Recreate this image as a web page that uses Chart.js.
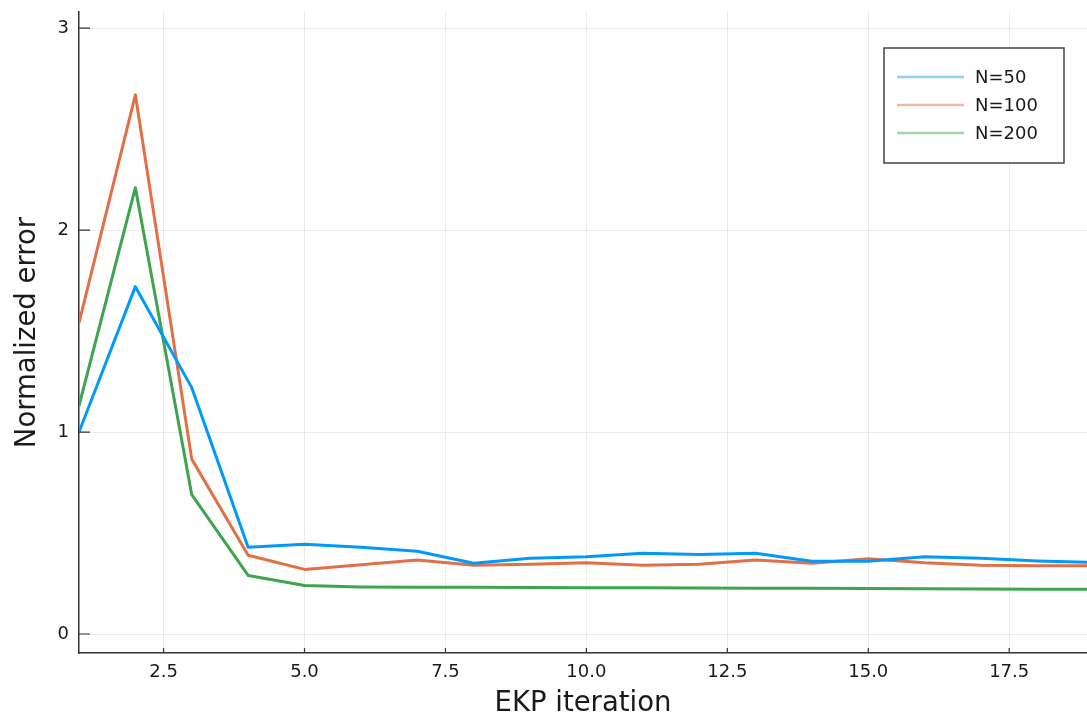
<!DOCTYPE html>
<html>
<head>
<meta charset="utf-8">
<script src="https://cdn.jsdelivr.net/npm/chart.js@4/dist/chart.umd.min.js"></script>
<style>
html,body{margin:0;padding:0;background:#fff;}
#wrap{width:1087px;height:723px;position:relative;}
</style>
</head>
<body>
<div id="wrap"><canvas id="c" width="1087" height="723"></canvas></div>
<script>
const iterations = [1,2,3,4,5,6,7,8,9,10,11,12,13,14,15,16,17,18,19];
const seriesLabels = ["N=50","N=100","N=200"];
const n50  = [1.00,1.72,1.22,0.43,0.445,0.43,0.41,0.35,0.375,0.383,0.40,0.394,0.40,0.36,0.36,0.383,0.375,0.362,0.355];
const n100 = [1.54,2.67,0.866,0.39,0.32,0.343,0.366,0.34,0.345,0.353,0.34,0.345,0.366,0.35,0.373,0.353,0.34,0.338,0.338];
const n200 = [1.13,2.21,0.69,0.29,0.24,0.233,0.231,0.231,0.23,0.229,0.229,0.228,0.227,0.226,0.225,0.224,0.223,0.222,0.221];
const xTicks = [2.5,5.0,7.5,10.0,12.5,15.0,17.5];
const yTicks = [0,1,2,3];
const colors = ["#009AFA","#E26F46","#3EA44E"];
const legendColors = ["#8fd0f7","#f0b7a3","#a6d3ad"];

const FONT = "DejaVu Sans";
const toXY = (xs, ys) => xs.map((x,i)=>({x:x,y:ys[i]}));

const inwardTicks = {
  id:'inwardTicks',
  afterDatasetsDraw(chart){
    const ctx = chart.ctx, a = chart.chartArea;
    const xs = chart.scales.x, ys = chart.scales.y;
    ctx.save();
    ctx.strokeStyle = '#333';
    ctx.lineWidth = 1.2;
    ctx.beginPath();
    xTicks.forEach(v=>{const p=xs.getPixelForValue(v); ctx.moveTo(p,a.bottom); ctx.lineTo(p,a.bottom-5);});
    yTicks.forEach(v=>{const p=ys.getPixelForValue(v); ctx.moveTo(a.left,p); ctx.lineTo(a.left+11,p);});
    ctx.stroke();
    ctx.restore();
  }
};

const boxLegend = {
  id:'boxLegend',
  afterDraw(chart){
    const ctx = chart.ctx;
    const x0 = 884, y0 = 48, w = 180, h = 115;
    ctx.save();
    ctx.fillStyle = '#fff';
    ctx.fillRect(x0,y0,w,h);
    ctx.strokeStyle = '#444';
    ctx.lineWidth = 1.5;
    ctx.strokeRect(x0,y0,w,h);
    ctx.font = "18px '" + FONT + "'";
    ctx.textBaseline = 'middle';
    ctx.fillStyle = '#1a1a1a';
    chart.data.datasets.forEach((ds,i)=>{
      const yy = y0 + 29 + i*28;
      ctx.strokeStyle = legendColors[i];
      ctx.lineWidth = 2.5;
      ctx.beginPath(); ctx.moveTo(897,yy); ctx.lineTo(964,yy); ctx.stroke();
      ctx.fillText(ds.label, 975, yy + 1);
    });
    ctx.restore();
  }
};

new Chart(document.getElementById('c'), {
  type:'line',
  data:{
    datasets:[
      {label:seriesLabels[0], data:toXY(iterations,n50), borderColor:colors[0], borderWidth:3},
      {label:seriesLabels[1], data:toXY(iterations,n100), borderColor:colors[1], borderWidth:3},
      {label:seriesLabels[2], data:toXY(iterations,n200), borderColor:colors[2], borderWidth:3}
    ]
  },
  options:{
    responsive:false,
    animation:false,
    events:[],
    elements:{point:{radius:0}, line:{tension:0, borderJoinStyle:'round'}},
    layout:{padding:{left:0,right:0,top:12,bottom:0}},
    plugins:{legend:{display:false}, tooltip:{enabled:false}},
    scales:{
      x:{
        type:'linear', min:1, max:18.88,
        afterBuildTicks(s){ s.ticks = xTicks.map(v=>({value:v})); },
        afterFit(s){ s.height = 70; s.paddingLeft = 0; s.paddingRight = 0; },
        grid:{color:'rgba(0,0,0,0.08)', lineWidth:1, drawTicks:false},
        border:{display:true, color:'#333', width:1.5},
        ticks:{padding:9, color:'#1a1a1a', font:{family:FONT,size:18}, maxRotation:0,
               callback:(v)=>Number(v).toFixed(1)},
        title:{display:true, text:'EKP iteration', color:'#1a1a1a', font:{family:FONT,size:27.5}, padding:{top:0,bottom:3}}
      },
      y:{
        type:'linear', min:-0.094, max:3.08,
        afterBuildTicks(s){ s.ticks = yTicks.map(v=>({value:v})); },
        afterFit(s){ s.width = 79; s.paddingTop = 0; s.paddingBottom = 0; },
        grid:{color:'rgba(0,0,0,0.08)', lineWidth:1, drawTicks:false},
        border:{display:true, color:'#333', width:1.5},
        ticks:{padding:10, color:'#1a1a1a', font:{family:FONT,size:18}, callback:(v)=>String(v)},
        title:{display:true, text:'Normalized error', color:'#1a1a1a', font:{family:FONT,size:27.5}, padding:{top:11,bottom:0}}
      }
    }
  },
  plugins:[inwardTicks, boxLegend]
});
</script>
</body>
</html>
